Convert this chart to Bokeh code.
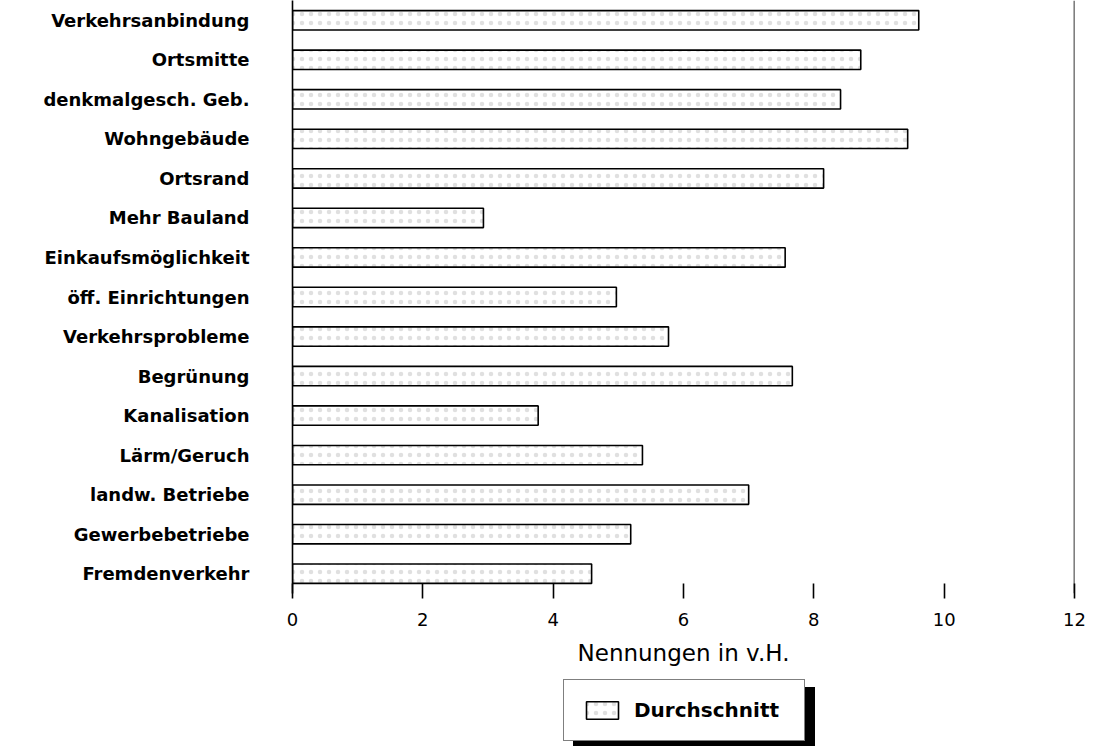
from bokeh.plotting import figure
from bokeh.models import FactorRange, FixedTicker, Span, Legend, LegendItem
from bokeh.layouts import column
from bokeh.embed import file_html
from bokeh.resources import INLINE

categories = ["Verkehrsanbindung", "Ortsmitte", "denkmalgesch. Geb.", "Wohngebäude",
              "Ortsrand", "Mehr Bauland", "Einkaufsmöglichkeit", "öff. Einrichtungen",
              "Verkehrsprobleme", "Begrünung", "Kanalisation", "Lärm/Geruch",
              "landw. Betriebe", "Gewerbebetriebe", "Fremdenverkehr"]
durchschnitt = [9.61, 8.72, 8.41, 9.44, 8.15, 2.93, 7.56, 4.97,
                5.77, 7.67, 3.77, 5.37, 7.0, 5.19, 4.59]
x_ticks = [0, 2, 4, 6, 8, 10, 12]
series_name = "Durchschnitt"

FONT = "DejaVu Sans"
BAR_STYLE = dict(fill_color="white", line_color="black", line_width=1.6,
                 hatch_pattern="dot", hatch_color="#999999", hatch_alpha=0.3,
                 hatch_scale=9, hatch_weight=0.7)

p = figure(width=1100, height=678, output_backend="svg", toolbar_location=None,
           y_range=FactorRange(factors=categories[::-1], range_padding=0),
           x_range=(0, 12),
           min_border_left=292, min_border_right=26, min_border_top=0,
           min_border_bottom=85)
p.outline_line_color = None
p.grid.visible = False

bars = p.hbar(y=categories, right=durchschnitt, left=0, height=0.49, **BAR_STYLE)

p.add_layout(Span(location=12, dimension="height", line_color="black", line_width=1.6))

xa = p.xaxis[0]
xa.ticker = FixedTicker(ticks=x_ticks)
xa.axis_line_color = None
xa.major_tick_in = 10
xa.major_tick_out = 5
xa.major_tick_line_width = 1.6
xa.minor_tick_line_color = None
xa.major_label_text_font = FONT
xa.major_label_text_font_size = "18px"
xa.major_label_text_color = "black"
xa.major_label_standoff = 14
xa.axis_label = "Nennungen in v.H."
xa.axis_label_text_font = FONT
xa.axis_label_text_font_size = "23px"
xa.axis_label_text_font_style = "normal"
xa.axis_label_text_color = "black"
xa.axis_label_standoff = 11

ya = p.yaxis[0]
ya.axis_line_width = 1.6
ya.major_tick_line_color = None
ya.minor_tick_line_color = None
ya.major_label_text_font = FONT
ya.major_label_text_font_size = "18px"
ya.major_label_text_font_style = "bold"
ya.major_label_text_color = "black"
ya.major_label_standoff = 37

# legend strip below the chart (frame aligned with the chart's frame)
lf = figure(width=1100, height=68, output_backend="svg", toolbar_location=None,
            x_axis_type=None, y_axis_type=None, x_range=(0, 1), y_range=(0, 1),
            min_border_left=292, min_border_right=26,
            min_border_top=0, min_border_bottom=0)
lf.outline_line_color = None
lf.grid.visible = False
# key renderers kept outside the visible range; they only feed the legend swatches
shadow_r = lf.quad(left=[5], right=[6], top=[6], bottom=[5],
                   fill_color="black", line_color="black")
key_r = lf.quad(left=[5], right=[6], top=[6], bottom=[5], **BAR_STYLE)

def make_legend(renderer, label, loc, bg):
    return Legend(items=[LegendItem(label=label, renderers=[renderer])],
                  location=loc, orientation="horizontal",
                  background_fill_color=bg, background_fill_alpha=1.0,
                  border_line_color="black", border_line_width=1.5,
                  label_text_font=FONT, label_text_font_size="20px",
                  label_text_font_style="bold", label_text_color="black",
                  glyph_width=40, glyph_height=22, label_standoff=12,
                  label_width=152, label_height=24, padding=18, margin=0, spacing=0)

# drop shadow behind the legend box
lf.add_layout(make_legend(shadow_r, " ", (281, -3), "black"))
lf.add_layout(make_legend(key_r, series_name, (271, 5), "white"))

layout = column(p, lf, spacing=0)
open("out.html", "w").write(file_html(layout, INLINE))
